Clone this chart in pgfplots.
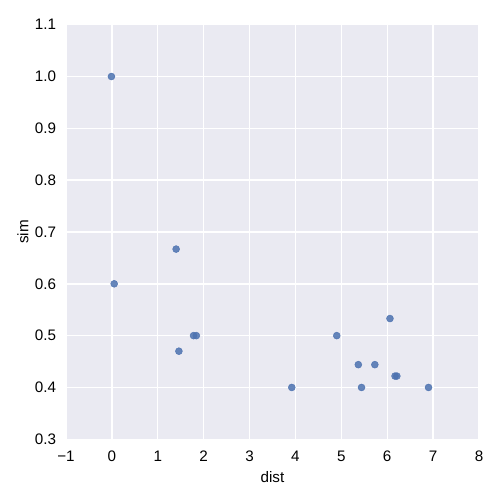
\documentclass[border=0pt]{standalone}
\usepackage{fontspec}
\setmainfont{Liberation Sans}
\usepackage{pgfplots}
\pgfplotsset{compat=1.18}
\usetikzlibrary{calc}
\definecolor{sbbg}{HTML}{EAEAF2}
\definecolor{sbblue}{HTML}{4C72B0}

\begin{document}
\begin{tikzpicture}
\begin{axis}[
    name=ax,
    scale only axis,
    width=4.13in,
    height=4.146in,
    xmin=-1, xmax=8,
    ymin=0.3, ymax=1.1,
    xtick={-1,0,1,2,3,4,5,6,7,8},
    xticklabels={−1,0,1,2,3,4,5,6,7,8},
    ytick={0.3,0.4,0.5,0.6,0.7,0.8,0.9,1.0,1.1},
    yticklabels={0.3,0.4,0.5,0.6,0.7,0.8,0.9,1.0,1.1},
    axis background/.style={fill=sbbg},
    grid=major,
    major grid style={white, line width=1pt},
    axis line style={draw=none},
    tick style={draw=none},
    tick label style={font=\fontsize{11}{13}\selectfont, inner sep=0pt},
    xticklabel shift=8pt,
    yticklabel shift=7pt,
    label style={font=\fontsize{11}{13}\selectfont},
    xlabel style={yshift=-4pt},
    ylabel style={yshift=1pt},
    xlabel={dist},
    ylabel={sim},
]
\addplot [only marks, mark=*, mark size=2.5pt, color=sbblue, fill opacity=0.85, draw opacity=0.85] coordinates {
    (-0.01, 1.0)
    (0.05, 0.6)
    (1.40, 0.667)
    (1.46, 0.47)
    (1.78, 0.5)
    (1.84, 0.5)
    (3.92, 0.4)
    (4.90, 0.5)
    (5.37, 0.444)
    (5.44, 0.4)
    (5.73, 0.444)
    (6.06, 0.533)
    (6.17, 0.422)
    (6.21, 0.422)
    (6.90, 0.4)
};
\end{axis}
\path[use as bounding box] ($(ax.south west)+(-0.66in,-0.607in)$) rectangle ($(ax.north east)+(0.21in,0.247in)$);
\end{tikzpicture}
\end{document}
